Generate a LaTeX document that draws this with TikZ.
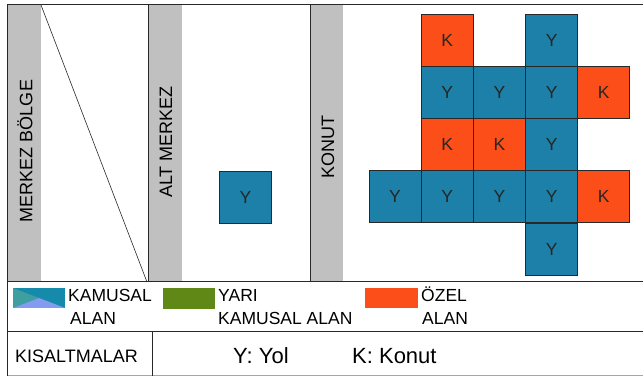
\documentclass[tikz,border=0pt]{standalone}
\usepackage{fontspec}
\setmainfont{Liberation Sans}
\definecolor{YolClr}{RGB}{28,128,168}
\definecolor{KonutClr}{RGB}{252,78,24}
\definecolor{GreenClr}{RGB}{96,136,22}
\definecolor{GrayClr}{RGB}{192,192,192}
\definecolor{LineClr}{RGB}{40,40,40}
\definecolor{TealClr}{RGB}{22,138,170}
\definecolor{TealLightClr}{RGB}{62,158,160}
\definecolor{SkyClr}{RGB}{132,156,240}

\begin{document}
\begin{tikzpicture}[x=1pt,y=-1pt,
  cell/.style={draw=LineClr,line width=0.9pt,minimum size=52pt,inner sep=0pt,
    text=black!85,font=\fontsize{17.5}{20}\selectfont},
  cellY/.style={cell,fill=YolClr},
  cellK/.style={cell,fill=KonutClr},
  frame/.style={draw=LineClr,line width=1pt},
  title/.style={rotate=90,inner sep=0pt,font=\fontsize{18}{20}\selectfont},
  legend/.style={anchor=base west,inner sep=0pt,font=\fontsize{17.5}{20}\selectfont}]
\useasboundingbox[fill=white] (0,0) rectangle (643,379);

\fill[GrayClr] (7,5) rectangle (41,282);
\fill[GrayClr] (148,5) rectangle (182,282);
\fill[GrayClr] (310,5) rectangle (343,282);

\draw[frame] (7,5) -- (643,5);
\draw[frame] (7,282) -- (643,282);
\draw[frame] (7,332) -- (643,332);
\draw[line width=1pt,draw=black!35] (7,376) -- (643,376);
\draw[frame] (7,5) -- (7,376);
\draw[frame] (148,5) -- (148,282);
\draw[frame] (310,5) -- (310,282);
\draw[frame] (152,332) -- (152,376);
\draw[draw=LineClr,line width=0.6pt] (41,5) -- (147,282);

\node[title] (merkez) at (25,151) {MERKEZ BÖLGE};
\node[title] (altmerkez) at (166,142) {ALT MERKEZ};
\node[title] (konut) at (328,147) {KONUT};

\node[cellY] (alt) at (245.5,197) {Y};
\foreach \c/\r/\t in {1/0/K,3/0/Y,1/1/Y,2/1/Y,3/1/Y,4/1/K,1/2/K,2/2/K,3/2/Y,
  0/3/Y,1/3/Y,2/3/Y,3/3/Y,4/3/K,3/4/Y}
  \node[cell\t] (c\c\r) at ({395+52.2*\c},{40+52.3*\r}) {\t};

\fill[TealClr] (13,288) rectangle (65,308);
\fill[TealLightClr] (13,288) -- (39,298) -- (13,308) -- cycle;
\fill[SkyClr] (13,308) -- (39,298) -- (65,308) -- cycle;
\fill[GreenClr] (163,288) rectangle (215,309);
\fill[KonutClr] (365,288) rectangle (418,308);

\node[legend] (kamusal1) at (68,302) {KAMUSAL};
\node[legend] (kamusal2) at (70,325) {ALAN};
\node[legend] (yari1) at (218,302) {YARI};
\node[legend] (yari2) at (218,325) {KAMUSAL ALAN};
\node[legend] (ozel1) at (421,302) {ÖZEL};
\node[legend] (ozel2) at (422,325) {ALAN};

\node[legend,font=\fontsize{18}{20}\selectfont] (kisalt) at (15,363) {KISALTMALAR};
\node[legend,font=\fontsize{22}{24}\selectfont] (yol) at (233,364) {Y: Yol};
\node[legend,font=\fontsize{22}{24}\selectfont] (konutk) at (352,364) {K: Konut};
\end{tikzpicture}
\end{document}
